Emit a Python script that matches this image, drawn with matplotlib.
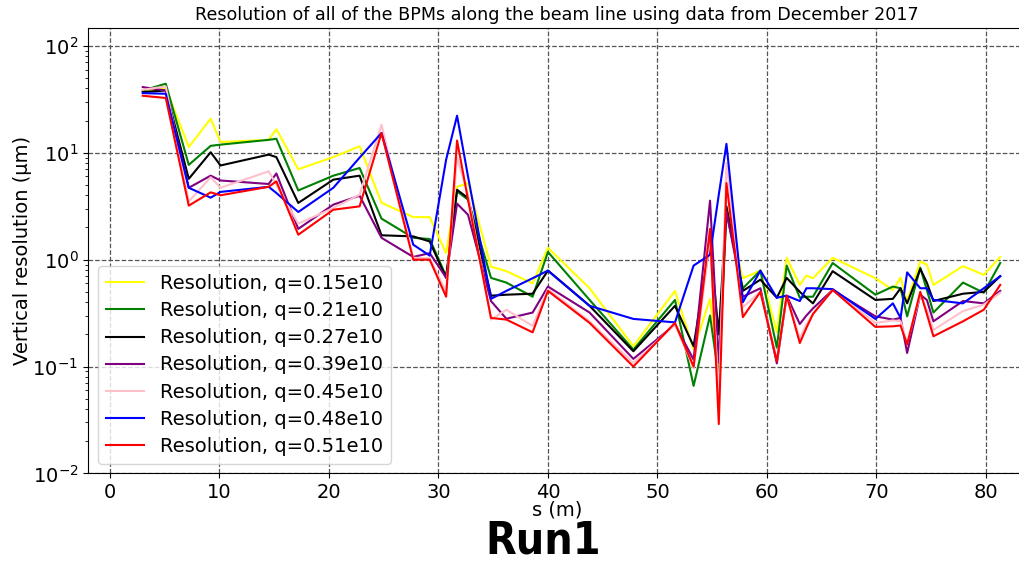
import matplotlib
matplotlib.use('Agg')
import matplotlib.pyplot as plt
import numpy as np

# BPM positions along the beam line (m)
s_bpm = [3.0, 5.1, 7.2, 9.2, 10.1, 14.5, 15.2, 17.2, 20.4, 22.8, 24.8, 27.7, 29.2,
         30.7, 31.7, 32.7, 34.8, 36.2, 38.6, 40.0, 43.8, 47.8, 51.6, 53.3, 54.8,
         55.6, 56.3, 57.8, 59.4, 60.9, 61.8, 63.0, 63.6, 64.2, 66.0, 69.9, 71.5,
         72.2, 72.8, 74.0, 74.6, 75.2, 77.9, 79.8, 81.3]

# vertical resolution (um) for each bunch charge
res_q015 = [37.4, 40.0, 11.3, 20.8, 12.6, 13.2, 16.6, 7.0, 9.1, 11.5, 3.4, 2.5, 2.5,
            1.15, 4.8, 5.2, 0.86, 0.78, 0.60, 1.29, 0.54, 0.155, 0.51, 0.144, 0.43,
            0.10, 2.75, 0.67, 0.79, 0.21, 1.04, 0.58, 0.71, 0.67, 1.04, 0.67, 0.52,
            0.68, 0.41, 0.96, 0.90, 0.58, 0.87, 0.72, 1.06]
res_q021 = [38.2, 44.2, 7.7, 11.6, 11.9, 13.2, 13.5, 4.44, 6.1, 7.2, 2.42, 1.60, 1.56,
            0.70, 4.35, 3.64, 0.675, 0.61, 0.45, 1.18, 0.42, 0.144, 0.42, 0.066, 0.30,
            0.079, 2.75, 0.54, 0.79, 0.15, 0.88, 0.44, 0.45, 0.45, 0.93, 0.47, 0.56,
            0.54, 0.295, 0.84, 0.52, 0.32, 0.61, 0.49, 0.93]
res_q027 = [37.0, 38.2, 5.7, 10.1, 7.6, 9.6, 9.1, 3.39, 5.6, 6.1, 1.69, 1.65, 1.48,
            0.675, 4.5, 3.77, 0.46, 0.47, 0.48, 0.79, 0.37, 0.139, 0.37, 0.155, 1.44,
            0.20, 3.15, 0.51, 0.65, 0.44, 0.675, 0.50, 0.44, 0.39, 0.78, 0.42, 0.43,
            0.54, 0.39, 0.82, 0.61, 0.41, 0.48, 0.50, 0.70]
res_q039 = [41.1, 38.2, 4.7, 6.1, 5.5, 5.1, 6.4, 1.94, 3.27, 3.96, 1.60, 1.06, 1.15,
            0.68, 3.34, 2.63, 0.41, 0.28, 0.32, 0.56, 0.32, 0.118, 0.247, 0.116, 3.56,
            0.109, 2.83, 0.45, 0.54, 0.107, 0.46, 0.25, 0.30, 0.35, 0.52, 0.295, 0.275,
            0.285, 0.134, 0.47, 0.42, 0.265, 0.41, 0.39, 0.51]
res_q045 = [38.8, 41.7, 3.5, 5.9, 4.7, 6.7, 5.0, 2.17, 3.04, 4.05, 18.3, 1.04, 1.03,
            0.50, 9.0, 4.05, 0.275, 0.34, 0.24, 0.53, 0.265, 0.108, 0.247, 0.096, 1.54,
            0.053, 8.0, 0.36, 0.50, 0.116, 0.45, 0.185, 0.247, 0.31, 0.52, 0.256, 0.27,
            0.265, 0.166, 0.47, 0.34, 0.22, 0.33, 0.38, 0.49]
res_q048 = [36.1, 35.6, 4.7, 3.8, 4.3, 4.8, 4.2, 2.79, 4.7, 9.0, 15.3, 1.38, 1.09,
            8.6, 22.2, 6.0, 0.43, 0.51, 0.67, 0.79, 0.37, 0.279, 0.259, 0.88, 1.11,
            4.05, 12.1, 0.40, 0.79, 0.44, 0.46, 0.41, 0.54, 0.54, 0.53, 0.279, 0.39,
            0.285, 0.76, 0.54, 0.54, 0.42, 0.39, 0.54, 0.70]
res_q051 = [34.1, 32.5, 3.2, 4.26, 4.0, 4.8, 5.4, 1.71, 2.93, 3.15, 15.3, 1.0, 1.0,
            0.45, 13.0, 3.64, 0.285, 0.275, 0.209, 0.51, 0.256, 0.10, 0.256, 0.10, 1.94,
            0.029, 5.2, 0.29, 0.50, 0.112, 0.46, 0.166, 0.23, 0.31, 0.52, 0.235, 0.238,
            0.242, 0.161, 0.50, 0.31, 0.192, 0.265, 0.34, 0.58]

charges = ['0.15e10', '0.21e10', '0.27e10', '0.39e10', '0.45e10', '0.48e10', '0.51e10']
series = [res_q015, res_q021, res_q027, res_q039, res_q045, res_q048, res_q051]
colors = ['yellow', 'green', 'black', 'purple', 'pink', 'blue', 'red']

fig = plt.figure(figsize=(10.2, 5.64), dpi=100)
ax = fig.add_axes([0.0863, 0.1605, 0.919, 0.790])

for q, res, c in zip(charges, series, colors):
    ax.plot(s_bpm, res, color=c, linewidth=1.5, label=f'Resolution, q={q}')

ax.set_yscale('log')
ax.set_xlim(-2.0, 83.6)
ax.set_ylim(0.01, 147)
ax.set_xticks(np.arange(0, 81, 10))
ax.tick_params(axis='both', which='major', labelsize=14)
ax.grid(True, which='major', linestyle='--', color='#555555', linewidth=0.9)

ax.set_xlabel('s (m)', fontsize=14, labelpad=-1)
ax.set_ylabel('Vertical resolution (\u03bcm)', fontsize=14, labelpad=0)
ax.set_title('Resolution of all of the BPMs along the beam line using data from December 2017',
             fontsize=12.6)

ax.legend(loc='lower left', fontsize=14, labelspacing=0.42)

# run tag under the axis
fig.text(0.533, 0.040, 'Run1', fontsize=32, fontweight='bold', family='DejaVu Sans',
         fontstretch='condensed', ha='center', va='center')

fig.savefig('out.png', dpi=100)
